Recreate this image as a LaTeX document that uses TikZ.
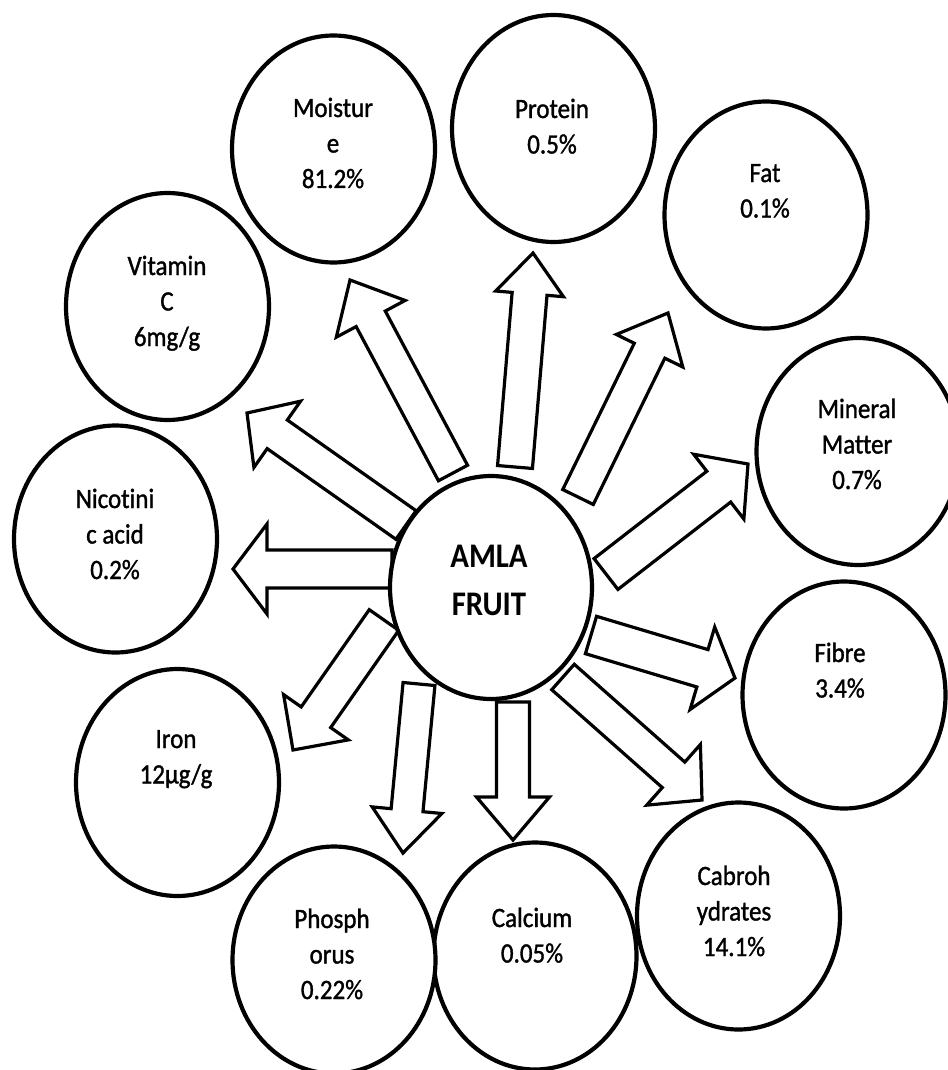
\documentclass[tikz,border=0pt]{standalone}
\usepackage{fontspec}
\setmainfont{Carlito}[Ligatures=NoCommon]
\newfontfamily\lblfont{Carlito}[FakeStretch=0.893, FakeBold=1.2, Ligatures=NoCommon]
\newfontfamily\mainfont{Carlito}[FakeStretch=0.893, Ligatures=NoCommon]
\usetikzlibrary{calc,shapes.geometric}
\newcommand{\blockarr}[5]{% #1 tail, #2 tip, #3 half shaft, #4 half head, #5 head length
  \coordinate (#1-b) at ($(#2)!#5pt!(#1)$);
  \draw[arrowline] ($(#1)!#3pt!90:(#2)$) -- ($(#1-b)!#3pt!90:(#2)$) -- ($(#1-b)!#4pt!90:(#2)$) -- (#2)
    -- ($(#1-b)!#4pt!-90:(#2)$) -- ($(#1-b)!#3pt!-90:(#2)$) -- ($(#1)!#3pt!-90:(#2)$) -- cycle;
}
\tikzset{
  arrowline/.style={draw=black, fill=white, line width=3.2pt},
  outer/.style={draw=black, fill=white, line width=4.2pt, ellipse, inner sep=0pt,
    minimum width=203pt, minimum height=227pt},
  lbl/.style={anchor=base, align=flush center, text width=190pt, inner sep=0pt,
    font=\lblfont\fontsize{28}{35.5}\selectfont},
  mainlbl/.style={anchor=base, align=flush center, text width=190pt, inner sep=0pt,
    font=\mainfont\bfseries\fontsize{34.5}{48}\selectfont}
}
\begin{document}
\begin{tikzpicture}[x=1pt,y=-1pt]
\useasboundingbox (0,0) rectangle (947,1070);
\fill[white] (0,0) rectangle (947,1070);

% arrow tails and tips
\coordinate (moiT) at (453,473); \coordinate (moiH) at (350,280);
\coordinate (proT) at (515,467); \coordinate (proH) at (533,253);
\coordinate (fatT) at (578,497); \coordinate (fatH) at (668,313);
\coordinate (minT) at (606,574); \coordinate (minH) at (748,464);
\coordinate (fibT) at (591,635); \coordinate (fibH) at (735,678);
\coordinate (cabT) at (563,677); \coordinate (cabH) at (702,800);
\coordinate (calT) at (513,702); \coordinate (calH) at (513,840);
\coordinate (phoT) at (419,684); \coordinate (phoH) at (403,853);
\coordinate (iroT) at (384,620); \coordinate (iroH) at (293,750);
\coordinate (nicT) at (392,569); \coordinate (nicH) at (233,569);
\coordinate (vitT) at (406,525); \coordinate (vitH) at (247,413);

\blockarr{moiT}{moiH}{16.5}{39}{44}
\blockarr{proT}{proH}{17.5}{34}{41}
\blockarr{fatT}{fatH}{17}{37}{42}
\blockarr{minT}{minH}{19.5}{41}{37}
\blockarr{fibT}{fibH}{19.5}{43}{34}
\blockarr{cabT}{cabH}{17}{40.5}{38}
\blockarr{calT}{calH}{16.5}{36.5}{43}
\blockarr{phoT}{phoH}{16}{35}{43}
\blockarr{iroT}{iroH}{18}{39.5}{40}
\blockarr{nicT}{nicH}{19}{45}{34}
\blockarr{vitT}{vitH}{17.5}{40.5}{37}

% central circle
\node[outer, minimum width=202pt, minimum height=223pt] (amla) at (491,587.5) {};
\node[mainlbl] (amlaT) at (489,567) {AMLA\\FRUIT};

% outer ellipses
\node[outer] (moi) at (333.5,149) {};
\node[outer] (pro) at (553.5,128.5) {};
\node[outer] (fat) at (766,215) {};
\node[outer] (min) at (858,451.5) {};
\node[outer] (fib) at (844,695) {};
\node[outer] (cab) at (738.5,916) {};
\node[outer] (cal) at (535,956) {};
\node[outer] (pho) at (334,960) {};
\node[outer] (iro) at (177.5,782.5) {};
\node[outer] (nic) at (115.5,539) {};
\node[outer] (vit) at (167.5,306.5) {};

% labels
\node[lbl] (moiL) at (333,117) {Moistur\\e\\81.2\%};
\node[lbl] (proL) at (552,118) {Protein\\0.5\%};
\node[lbl] (fatL) at (765,182) {Fat\\0.1\%};
\node[lbl] (minL) at (857,418) {Mineral\\Matter\\0.7\%};
\node[lbl] (fibL) at (840,662) {Fibre\\3.4\%};
\node[lbl] (cabL) at (734,885) {Cabroh\\ydrates\\14.1\%};
\node[lbl] (calL) at (532,927) {Calcium\\0.05\%};
\node[lbl] (phoL) at (332,928) {Phosph\\orus\\0.22\%};
\node[lbl] (iroL) at (176,748) {Iron\\12µg/g};
\node[lbl] (nicL) at (115,508) {Nicotini\\c acid\\0.2\%};
\node[lbl] (vitL) at (167,275) {Vitamin\\C\\6mg/g};
\end{tikzpicture}
\end{document}
